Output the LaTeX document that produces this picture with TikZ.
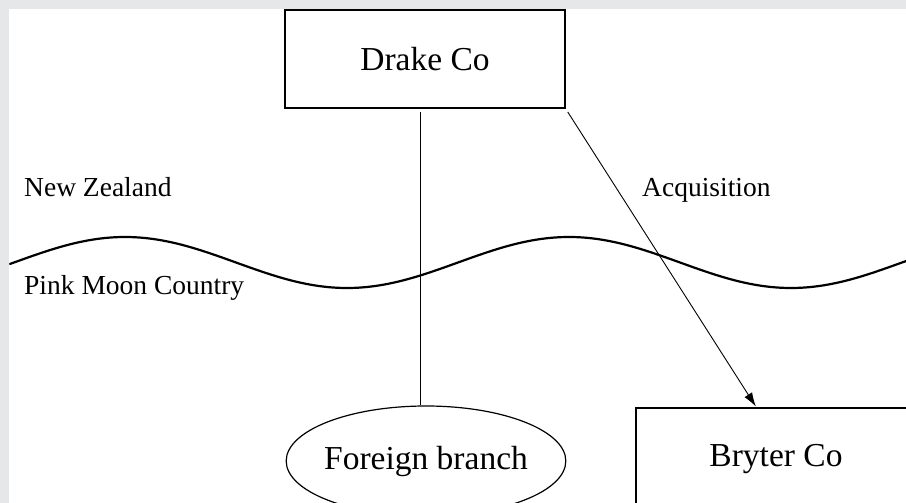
\documentclass[tikz,border=0pt]{standalone}
\usepackage{fontspec}
\setmainfont{Liberation Serif}
\usetikzlibrary{shapes.geometric,arrows.meta,calc}
\definecolor{framegray}{RGB}{229,231,233}
\tikzset{
  entity/.style={draw, line width=1.2pt, inner sep=0pt, font=\fontsize{33.5}{40}\selectfont},
  companybox/.style={entity, rectangle, minimum width=280pt, minimum height=98pt},
  branchoval/.style={entity, ellipse, inner xsep=-3pt, minimum width=278pt, minimum height=110pt},
  regionlabel/.style={anchor=base west, inner sep=0pt, font=\fontsize{27.5}{33}\selectfont},
  link/.style={line width=0.9pt},
  border/.style={line width=2.2pt}
}
\begin{document}
\begin{tikzpicture}[x=1pt, y=-1pt]
  % frame and canvas
  \useasboundingbox (0,0) rectangle (906,503);
  \fill[framegray] (0,0) rectangle (906,503);
  \fill[white] (9,9) rectangle (906,503);
  \begin{scope}
    \clip (9,9) rectangle (906,503);

    % the border between the two countries
    \draw[border, line cap=round] plot[domain=10:906, samples=240, smooth]
      (\x, {262.5 - 25.5*sin((\x-14)/444*360)});

    % companies and branch
    \node[companybox] (drake) at (425,59) {Drake Co};
    \node[branchoval] (foreign) at (426,461) {Foreign branch};
    \node[companybox, text depth=3pt] (bryter) at (776,457) {Bryter Co};

    % country and relation labels
    \node[regionlabel] (nz) at (24,196) {New Zealand};
    \node[regionlabel] (pmc) at (24,294) {Pink Moon Country};
    \node[regionlabel] (acq) at (642,196) {Acquisition};

    % connectors
    \coordinate (branchtop) at ($(drake.south)+(-5,0)$);
    \draw[link, shorten <=3pt] (branchtop) -- (branchtop |- foreign.north);
    \coordinate (acqhead) at ($(bryter.north west)+(121,0)$);
    \draw[link, shorten <=4pt, shorten >=1pt, -{Latex[length=14pt,width=9pt]}]
      (drake.south east) -- (acqhead);
  \end{scope}
\end{tikzpicture}
\end{document}
